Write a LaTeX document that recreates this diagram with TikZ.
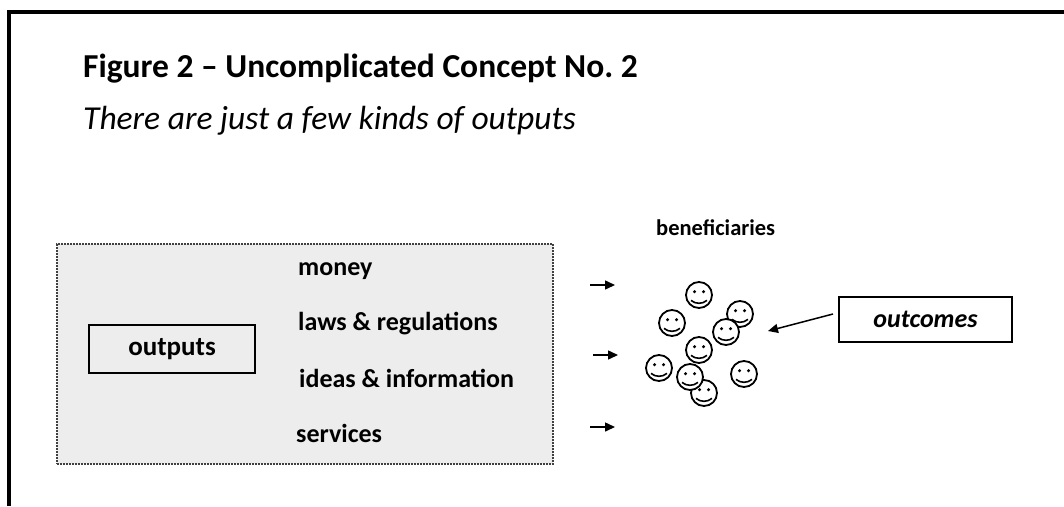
\documentclass[tikz,border=0pt]{standalone}
\usepackage{fontspec}
\setmainfont{Carlito}
\usepackage{tikz}
\usetikzlibrary{arrows.meta,positioning}

\begin{document}
\begin{tikzpicture}[x=1pt,y=-1pt,
heading/.style={anchor=base west,inner sep=0pt,font=\bfseries\fontsize{33.5}{40}\selectfont},
subheading/.style={anchor=base west,inner sep=0pt,font=\itshape\fontsize{33.5}{40}\selectfont},
kind/.style={anchor=base west,inner sep=0pt,font=\bfseries\fontsize{26}{30}\selectfont},
panel/.style={draw=black!75,fill=black!7,dash pattern=on 2pt off 1pt,line width=1.2pt,minimum width=496pt,minimum height=220pt,inner sep=0pt},
labelbox/.style={draw,line width=2pt,inner sep=0pt},
smiley/.style={circle,draw,fill=white,line width=1.8pt,minimum size=26pt,inner sep=0pt,
  path picture={
    \fill[black] ([xshift=-4.5pt,yshift=3.3pt]path picture bounding box.center) circle (1.7pt);
    \fill[black] ([xshift=4.5pt,yshift=3.3pt]path picture bounding box.center) circle (1.7pt);
    \draw[black,line width=1.6pt] ([xshift=-8pt,yshift=-5.4pt]path picture bounding box.center) arc (230:310:12.4pt);
  }},
feed/.style={-{Triangle[length=10pt,width=9pt]},line width=1.5pt}]
\useasboundingbox (0,0) rectangle (1064,506);

\draw[line width=4pt] (9,506) -- (9,12) -- (1064,12);

\node (title) at (83,77)[heading] {Figure 2 – Uncomplicated Concept No.\ 2};
\node (subtitle) at (83,129)[subheading] {There are just a few kinds of outputs};

\node (panel) at (305,354)[panel] {};
\node (outputs) at (172,349)[labelbox,minimum width=166pt,minimum height=48pt,font=\bfseries\fontsize{27}{30}\selectfont] {outputs};
\node (money) at (298,275)[kind] {money};
\node (laws) at (298,330)[kind] {laws \& regulations};
\node (ideas) at (299,387)[kind] {ideas \& information};
\node (services) at (296,442)[kind] {services};

\coordinate (f1) at (590,285);
\coordinate (g1) at (615,285);
\coordinate (f2) at (593,355);
\coordinate (g2) at (618,355);
\coordinate (f3) at (590,427);
\coordinate (g3) at (615,427);
\draw[feed] (f1) -- (g1);
\draw[feed] (f2) -- (g2);
\draw[feed] (f3) -- (g3);

\node (benef) at (656,235)[anchor=base west,inner sep=0pt,font=\bfseries\fontsize{22.5}{26}\selectfont] {beneficiaries};

\node (s1) at (699,295)[smiley] {};
\node (s2) at (672,323)[smiley] {};
\node (s3) at (740,314)[smiley] {};
\node (s4) at (726,332)[smiley] {};
\node (s5) at (699,350)[smiley] {};
\node (s6) at (659,368)[smiley] {};
\node (s8) at (704,393)[smiley] {};
\node (s7) at (690,377)[smiley] {};
\node (s9) at (744,374)[smiley] {};

\node (outcomes) at (925.5,319.5)[labelbox,minimum width=173pt,minimum height=45pt,font=\bfseries\itshape\fontsize{26}{30}\selectfont] {outcomes};
\coordinate (tip) at (768,331);
\draw[feed] ([xshift=-5pt,yshift=5.5pt]outcomes.west) -- (tip);
\end{tikzpicture}
\end{document}
